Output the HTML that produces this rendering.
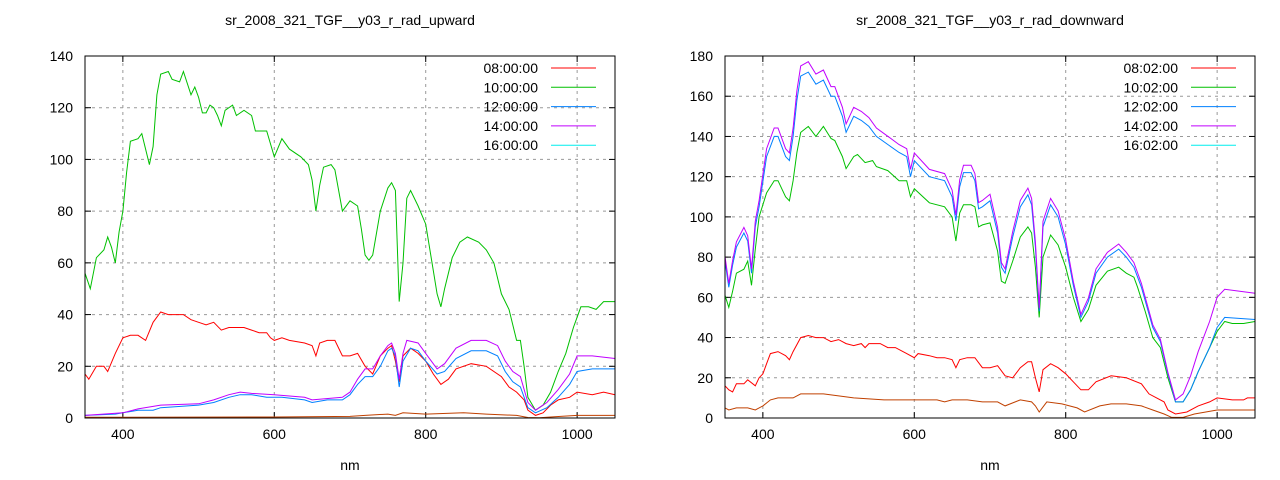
<!DOCTYPE html>
<html><head><meta charset="utf-8"><style>
body{margin:0;background:#fff}
svg{display:block}
text{font-family:"Liberation Sans",sans-serif;font-size:14px;fill:#000}
</style></head><body>
<svg id="s" width="1280" height="480" xmlns="http://www.w3.org/2000/svg"></svg>
<script>
const S=document.getElementById('s');let h='';
const C={r:'#ff0000',g:'#00c000',b:'#0080ff',p:'#c000ff',o:'#c04000'};
function plot(o){
 const X=v=>o.x0+(v-350)/700*(o.x1-o.x0), Y=v=>418-v/o.ym*362;
 h+=`<text x="${(o.x0+o.x1)/2}" y="25" text-anchor="middle">${o.title}</text>`;
 h+=`<text x="${(o.x0+o.x1)/2}" y="470" text-anchor="middle">nm</text>`;
 for(const t of [400,600,800,1000]){const x=X(t);
  h+=`<line x1="${x}" y1="56" x2="${x}" y2="418" stroke="#999" stroke-dasharray="3,4"/>`;
  h+=`<line x1="${x}" y1="418" x2="${x}" y2="412" stroke="#000"/><line x1="${x}" y1="56" x2="${x}" y2="62" stroke="#000"/>`;
  h+=`<text x="${x}" y="439" text-anchor="middle">${t}</text>`;}
 for(let v=0;v<=o.ym;v+=20){const y=Y(v);
  if(v>0&&v<o.ym)h+=`<line x1="${o.x0}" y1="${y}" x2="${o.x1}" y2="${y}" stroke="#999" stroke-dasharray="3,4"/>`;
  h+=`<line x1="${o.x0}" y1="${y}" x2="${o.x0+6}" y2="${y}" stroke="#000"/><line x1="${o.x1}" y1="${y}" x2="${o.x1-6}" y2="${y}" stroke="#000"/>`;
  h+=`<text x="${o.x0-12}" y="${y+5}" text-anchor="end">${v}</text>`;}
 for(const [c,d] of o.series){
  h+=`<polyline fill="none" stroke="${C[c]}" stroke-width="1" points="${d.map(p=>X(p[0]).toFixed(1)+','+Y(p[1]).toFixed(1)).join(' ')}"/>`;}
 o.leg.forEach((l,i)=>{const y=68+i*19.3;
  h+=`<text x="${o.x1-77}" y="${y+5}" text-anchor="end">${l[0]}</text><line x1="${o.x1-64}" y1="${y}" x2="${o.x1-19}" y2="${y}" stroke="${l[1]}"/>`;});
 h+=`<rect x="${o.x0}" y="56" width="${o.x1-o.x0}" height="362" fill="none" stroke="#000"/>`;
}
const Lg=[[350,56],[357,50],[365,62],[375,65],[380,70],[385,66],[390,60],[395,72],[400,80],[405,95],[410,107],[420,108],[425,110],[430,104],[435,98],[440,105],[445,125],[450,133],[460,134],[465,131],[475,130],[480,134],[490,125],[495,128],[500,124],[505,118],[510,118],[515,121],[520,120],[525,117],[530,113],[535,119],[545,121],[550,117],[560,119],[570,117],[575,111],[590,111],[600,101],[610,108],[620,104],[635,101],[645,98],[650,92],[655,80],[660,90],[665,97],[675,98],[680,96],[690,80],[700,84],[710,82],[715,73],[720,63],[725,61],[730,63],[740,80],[750,89],[755,91],[760,88],[765,45],[770,60],[775,85],[780,88],[790,82],[800,75],[810,57],[815,48],[820,43],[825,50],[835,62],[845,68],[855,70],[870,68],[880,65],[890,60],[900,48],[910,42],[920,30],[925,30],[930,20],[935,8],[945,3],[955,5],[965,10],[975,18],[985,25],[995,35],[1005,43],[1015,43],[1025,42],[1035,45],[1050,45]];
const Lr=[[350,17],[355,15],[365,20],[375,20],[380,18],[390,25],[400,31],[410,32],[420,32],[430,30],[440,37],[450,41],[460,40],[470,40],[480,40],[490,38],[500,37],[510,36],[520,37],[530,34],[540,35],[560,35],[570,34],[580,33],[590,33],[595,31],[600,30],[610,31],[620,30],[640,29],[650,28],[655,24],[660,29],[670,30],[680,30],[690,24],[700,24],[710,25],[720,20],[730,17],[740,24],[750,27],[755,28],[760,22],[765,14],[770,24],[780,27],[790,25],[800,22],[810,17],[820,13],[830,15],[840,19],[860,21],[880,20],[900,16],[910,12],[920,10],[930,7],[935,3],[945,1],[955,2],[965,5],[975,7],[990,8],[1000,10],[1020,9],[1035,10],[1050,9]];
const Lb=[[350,1],[390,1.5],[400,2],[420,3],[440,3],[450,4],[500,5],[520,6],[540,8],[555,9],[570,9],[590,8],[610,8],[640,7],[650,6],[670,7],[690,7],[700,9],[710,13],[720,16],[730,16],[740,20],[750,26],[755,27],[760,24],[765,12],[770,22],[780,27],[790,26],[800,22],[815,17],[825,18],[840,23],[860,26],[880,26],[895,24],[905,18],[915,14],[925,12],[935,4],[945,2],[960,4],[975,8],[990,13],[1000,18],[1020,19],[1050,19]];
const Lp=[[350,1],[400,2],[420,3.5],[450,5],[500,5.5],[520,7],[540,9],[555,10],[570,9.5],[600,9],[640,8],[650,7],[690,8],[700,10],[710,15],[720,19],[730,19],[740,24],[750,28],[755,29],[760,25],[765,15],[770,25],[775,30],[790,29],[800,25],[815,19],[825,21],[840,27],[860,30],[880,30],[895,28],[905,22],[915,18],[925,16],[935,6],[945,3],[960,6],[975,11],[990,17],[1000,24],[1020,24],[1050,23]];
const Lo=[[350,0.3],[400,0.3],[600,0.4],[700,0.6],[720,1],[750,1.5],[760,1],[770,2],[800,1.5],[850,2],[880,1.5],[920,1],[935,0.2],[950,0.1],[970,0.5],[1000,1],[1050,1]];
const Rr=[[350,16],[355,14],[360,13],[365,17],[375,17],[380,19],[390,16],[395,20],[400,22],[405,27],[410,32],[420,33],[430,31],[435,29],[440,33],[450,40],[460,41],[470,40],[480,40],[490,38],[500,39],[510,37],[520,36],[530,37],[535,35],[540,37],[555,37],[565,35],[575,35],[585,33],[590,32],[600,30],[605,32],[620,31],[630,30],[640,30],[650,29],[655,25],[660,29],[670,30],[680,30],[690,25],[700,25],[710,26],[720,21],[730,20],[740,25],[750,28],[755,28],[760,20],[765,13],[770,24],[780,27],[790,25],[800,22],[810,18],[820,14],[830,14],[840,18],[860,21],[880,20],[900,17],[910,12],[930,8],[935,4],[945,2],[960,3],[975,6],[990,8],[1000,10],[1020,9],[1035,9],[1040,10],[1050,10]];
const Ro=[[350,5],[355,4],[365,5],[380,5],[390,4],[400,6],[410,9],[420,10],[440,10],[450,12],[480,12],[500,11],[520,10],[560,9],[590,9],[630,9],[640,8],[650,9],[670,9],[690,8],[710,8],[720,6],[740,9],[755,8],[760,6],[765,3],[775,8],[795,7],[815,5],[825,3],[845,6],[860,7],[880,7],[900,6],[915,4],[930,2],[940,0.3],[955,0.3],[970,2],[985,3],[1000,4],[1050,4]];
const Rg=[[350,61],[355,55],[360,63],[365,72],[375,74],[380,78],[385,66],[390,84],[395,100],[405,112],[415,118],[420,118],[430,110],[435,108],[440,118],[445,132],[450,142],[460,145],[470,140],[480,145],[490,139],[495,138],[505,130],[510,124],[520,130],[525,131],[535,127],[545,128],[550,125],[565,123],[580,118],[590,118],[595,110],[600,114],[620,107],[640,105],[650,100],[655,88],[660,102],[665,106],[675,106],[680,105],[685,95],[690,96],[700,97],[710,83],[715,68],[720,67],[730,78],[740,90],[750,95],[755,92],[760,75],[765,50],[770,80],[780,91],[790,86],[800,75],[810,60],[820,48],[830,54],[840,66],[855,73],[870,75],[880,72],[890,70],[895,65],[905,53],[915,40],[925,35],[935,20],[945,8],[955,8],[965,14],[975,23],[990,35],[1000,43],[1010,48],[1020,47],[1035,47],[1050,48]];
const Rb=[[350,78],[355,65],[360,76],[365,85],[375,92],[380,88],[385,72],[390,95],[395,105],[405,130],[415,140],[420,140],[430,130],[435,128],[440,140],[445,158],[450,170],[460,172],[470,166],[480,168],[490,160],[495,160],[505,150],[510,142],[520,150],[530,148],[540,145],[550,140],[565,136],[580,132],[590,130],[595,120],[600,128],[620,120],[640,118],[650,110],[655,98],[660,115],[665,122],[675,122],[680,118],[685,104],[690,105],[700,108],[710,92],[715,75],[720,72],[730,90],[740,105],[750,111],[755,106],[760,85],[765,53],[770,95],[780,106],[790,100],[800,86],[810,66],[820,50],[830,58],[840,72],[855,80],[870,84],[880,80],[890,75],[900,65],[915,45],[925,38],[935,22],[945,8],[955,8],[965,14],[975,23],[990,35],[1000,45],[1010,50],[1050,49]];
const tail={945:1,955:4,965:7,975:10,990:13,1000:15,1010:14,1050:13};
const Rp=Rb.map(([x,v])=>[x,x>940?v+(tail[x]||0):v*1.03]);
plot({x0:85,x1:615,ym:140,title:'sr_2008_321_TGF__y03_r_rad_upward',
 series:[['o',Lo],['r',Lr],['g',Lg],['b',Lb],['p',Lp]],
 leg:[['08:00:00','#ff0000'],['10:00:00','#00c000'],['12:00:00','#0080ff'],['14:00:00','#c000ff'],['16:00:00','#00eeee']]});
plot({x0:725,x1:1255,ym:180,title:'sr_2008_321_TGF__y03_r_rad_downward',
 series:[['o',Ro],['r',Rr],['g',Rg],['b',Rb],['p',Rp]],
 leg:[['08:02:00','#ff0000'],['10:02:00','#00c000'],['12:02:00','#0080ff'],['14:02:00','#c000ff'],['16:02:00','#00eeee']]});
S.innerHTML=h;
</script>
</body></html>
